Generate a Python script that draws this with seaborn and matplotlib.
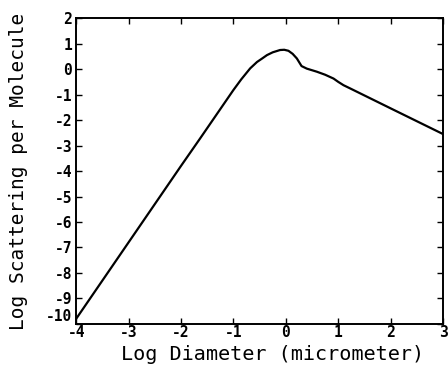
import matplotlib
matplotlib.use("Agg")
import matplotlib.pyplot as plt
import seaborn as sns
import pandas as pd

log_diameter = [-4.0, -3.0, -2.0, -1.635, -1.0, -0.85, -0.68, -0.55, -0.45, -0.36, -0.25, -0.11, -0.03, 0.05, 0.13, 0.21, 0.30, 0.40, 0.59, 0.75, 0.91, 1.0, 1.10, 1.23, 2.0, 3.0]
log_scattering = [-9.8, -6.8, -3.8, -2.72, -0.82, -0.4, 0.03, 0.28, 0.42, 0.55, 0.66, 0.75, 0.76, 0.72, 0.6, 0.42, 0.12, 0.02, -0.1, -0.22, -0.37, -0.5, -0.63, -0.76, -1.54, -2.55]
x_ticks = [-4, -3, -2, -1, 0, 1, 2, 3]
x_tick_labels = ["-4", "-3", "-2", "-1", "0", "1", "2", "3"]
y_ticks = [2, 1, 0, -1, -2, -3, -4, -5, -6, -7, -8, -9, -10]
y_tick_labels = ["2", "1", "0", "-1", "-2", "-3", "-4", "-5", "-6", "-7", "-8", "-9", "-10"]

df = pd.DataFrame({"x": log_diameter, "y": log_scattering})

sns.set_style("white")
plt.rcParams["font.family"] = ["DejaVu Sans Mono", "DejaVu Sans"]
plt.rcParams["text.color"] = "black"
plt.rcParams["axes.labelcolor"] = "black"

fig = plt.figure(figsize=(4.48, 3.71), dpi=100)
ax = fig.add_axes([0.170, 0.127, 0.819, 0.824])
sns.lineplot(data=df, x="x", y="y", color="black", linewidth=1.6, ax=ax)

ax.set_xlim(-4, 3)
ax.set_ylim(-10, 2)
ax.set_xticks(x_ticks)
ax.set_xticklabels(x_tick_labels, fontsize=10.5, fontweight="bold")
ax.set_yticks(y_ticks)
ax.set_yticklabels(y_tick_labels, fontsize=10.5, fontweight="bold")
ax.tick_params(direction="in", length=4, width=1, top=True, right=True,
               bottom=True, left=True, colors="black")
ax.tick_params(axis="x", pad=1)
ax.tick_params(axis="y", pad=3)
ax.get_yticklabels()[-1].set_va("bottom")
for s in ax.spines.values():
    s.set_color("black")
    s.set_linewidth(1.4)
ax.set_xlabel("Log Diameter (micrometer)", fontsize=14.5, labelpad=3.5)
ax.xaxis.label.set_x(0.535)
ax.set_ylabel("Log Scattering per Molecule", fontsize=14, labelpad=13)

fig.savefig("out.png", dpi=100)
